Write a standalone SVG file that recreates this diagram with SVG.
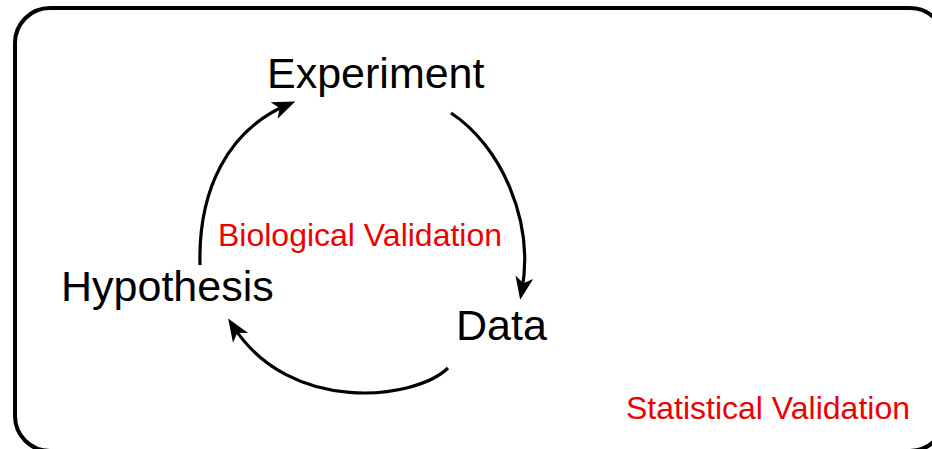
<svg xmlns="http://www.w3.org/2000/svg" width="932" height="449" viewBox="0 0 932 449">
<style>
.lbl{font-family:"Liberation Sans",Arial,sans-serif;font-size:43px;fill:#000}
.red{font-family:"Liberation Sans",Arial,sans-serif;font-size:32px;fill:#ee0000}
.arc{fill:none;stroke:#000;stroke-width:3.2}
</style>
<defs>
<marker id="ah" markerUnits="userSpaceOnUse" markerWidth="26" markerHeight="20" refX="14" refY="9" orient="auto" overflow="visible">
<path d="M0,0 L23,9 L0,18 L6,9 z" fill="#000"/>
</marker>
</defs>
<rect x="15" y="8" width="930" height="443" rx="35" ry="35" fill="#fff" stroke="#000" stroke-width="4"/>
<g id="connectors">
<path class="arc" d="M200,265 C198,190 228,130 287,105" marker-end="url(#ah)"/>
<path class="arc" d="M451,113 C500,145 535,220 521.8,291" marker-end="url(#ah)"/>
<path class="arc" d="M448,368 C415,400 290,415 233,326" marker-end="url(#ah)"/>
</g>
<g id="experiment"><text class="lbl" x="267" y="88">Experiment</text></g>
<g id="hypothesis"><text class="lbl" x="61" y="301">Hypothesis</text></g>
<g id="data"><text class="lbl" x="456" y="340">Data</text></g>
<g id="biological-validation"><text class="red" x="218" y="246">Biological Validation</text></g>
<g id="statistical-validation"><text class="red" x="626" y="419">Statistical Validation</text></g>
</svg>
